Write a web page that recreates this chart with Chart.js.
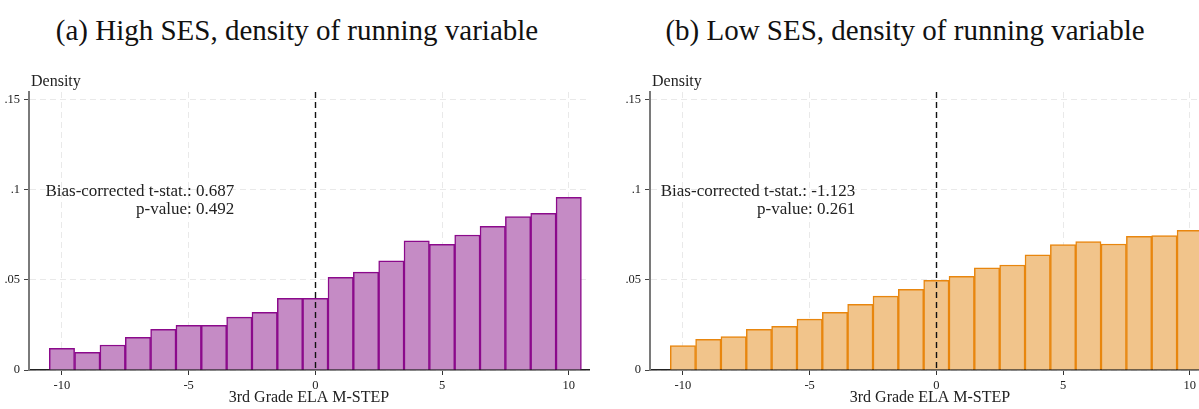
<!DOCTYPE html>
<html>
<head>
<meta charset="utf-8">
<script src="https://cdn.jsdelivr.net/npm/chart.js@4.4.1/dist/chart.umd.min.js"></script>
<style>
  html, body { margin:0; padding:0; background:#fff; width:1199px; height:409px; overflow:hidden; }
  #wrap { position:relative; width:1199px; height:409px; overflow:hidden; }
  canvas { position:absolute; top:0; }
  .ttl { position:absolute; top:15px; font-family:"Liberation Serif", serif; font-size:29px; line-height:30px; color:#111; text-align:center; white-space:nowrap; }
</style>
</head>
<body>
<div id="wrap">
  <div class="ttl" id="t1" style="left:0px; width:594px;"></div>
  <div class="ttl" id="t2" style="left:605px; width:600px;"></div>
  <canvas id="c1" width="610" height="409" style="left:0px;"></canvas>
  <canvas id="c2" width="610" height="409" style="left:621px;"></canvas>
</div>
<script>
// ---- data ----
const bins = [-10,-9,-8,-7,-6,-5,-4,-3,-2,-1,0,1,2,3,4,5,6,7,8,9,10];
const highSES = [0.0120,0.0098,0.0139,0.0182,0.0226,0.0248,0.0248,0.0294,0.0320,0.0398,0.0398,
                 0.0515,0.0544,0.0606,0.0718,0.0698,0.0750,0.0798,0.0852,0.0870,0.0959];
const lowSES  = [0.0135,0.0170,0.0185,0.0226,0.0243,0.0283,0.0320,0.0365,0.0410,0.0448,0.0498,
                 0.0520,0.0568,0.0583,0.0639,0.0696,0.0713,0.0700,0.0742,0.0746,0.0776];
const xTicks = [-10,-5,0,5,10];
const xTickLabels = ['-10','-5','0','5','10'];
const yTicks = [0,0.05,0.1,0.15];
const yTickLabels = ['0','.05','.1','.15'];
const titles = ['(a) High SES, density of running variable','(b) Low SES, density of running variable'];
const xTitle = '3rd Grade ELA M-STEP';
const yTitle = 'Density';
const statLines = [['Bias-corrected t-stat.: 0.687','p-value: 0.492'],
                   ['Bias-corrected t-stat.: -1.123','p-value: 0.261']];
const cutoff = 0;
const annotX = -3.2, annotY = 0.099;

document.getElementById('t1').textContent = titles[0];
document.getElementById('t2').textContent = titles[1];

const SERIF = '"Liberation Serif", "DejaVu Serif", serif';

function overlayPlugin(lines){
  return {
    id:'overlay',
    afterDatasetsDraw(chart){
      const {ctx, chartArea, scales:{x,y}} = chart;
      ctx.save();
      // cutoff line
      ctx.strokeStyle = '#111';
      ctx.lineWidth = 1.4;
      ctx.setLineDash([6,4]);
      const px = Math.round(x.getPixelForValue(cutoff)) + 0.5;
      ctx.beginPath();
      ctx.moveTo(px, chartArea.top);
      ctx.lineTo(px, chartArea.bottom);
      ctx.stroke();
      ctx.setLineDash([]);
      // y title
      ctx.fillStyle = '#222';
      ctx.font = '16px ' + SERIF;
      ctx.textAlign = 'left';
      ctx.textBaseline = 'middle';
      ctx.fillText(yTitle, chartArea.left + 2, 82);
      // stats text
      ctx.font = '17px ' + SERIF;
      ctx.textAlign = 'right';
      const ax = x.getPixelForValue(annotX), ay = y.getPixelForValue(annotY);
      ctx.fillText(lines[0], ax, ay);
      ctx.fillText(lines[1], ax, ay + 18);
      ctx.restore();
    }
  };
}

function makeChart(id, values, fill, border, lines){
  return new Chart(document.getElementById(id), {
    type:'bar',
    data:{ datasets:[{
      data: bins.map((b,i)=>({x:b, y:values[i]})),
      backgroundColor: fill,
      borderColor: border,
      borderWidth: 1.5,
      barPercentage: 1,
      categoryPercentage: 1
    }]},
    options:{
      responsive:false,
      animation:false,
      devicePixelRatio:1,
      layout:{ padding:{ top:92, left:0, right:21, bottom:0 } },
      plugins:{ legend:{display:false}, tooltip:{enabled:false} },
      scales:{
        x:{
          type:'linear', min:-11.3, max:10.8, offset:false,
          afterBuildTicks: s => { s.ticks = xTicks.map(v=>({value:v})); },
          afterFit: s => { s.height = 39; },
          ticks:{ callback:(v)=> xTickLabels[xTicks.indexOf(v)], color:'#222', padding:3, maxRotation:0,
                  font:{family:SERIF, size:12.5} },
          grid:{ offset:false, color:'#e9e9e9', lineWidth:1, drawTicks:true, tickLength:5, tickColor:'#333', tickWidth:1 },
          border:{ display:true, color:'#222', width:1.5, dash:[6,4] },
          title:{ display:true, text:xTitle, color:'#222', font:{family:SERIF, size:16}, padding:{top:0, bottom:1.5} }
        },
        y:{
          min:0, max:0.1544,
          afterBuildTicks: s => { s.ticks = yTicks.map(v=>({value:v})); },
          afterFit: s => { s.width = 29; },
          ticks:{ callback:(v)=> yTickLabels[yTicks.indexOf(v)], color:'#222', padding:4,
                  font:{family:SERIF, size:12.5} },
          grid:{ color:'#e9e9e9', lineWidth:1, drawTicks:true, tickLength:5, tickColor:'#444', tickWidth:1 },
          border:{ display:true, color:'#7a7a7a', width:2, dash:[6,4] }
        }
      }
    },
    plugins:[overlayPlugin(lines)]
  });
}

makeChart('c1', highSES, '#c58bc5', '#8b0a8b', statLines[0]);
makeChart('c2', lowSES, '#f1c48b', '#e8860e', statLines[1]);
</script>
</body>
</html>
